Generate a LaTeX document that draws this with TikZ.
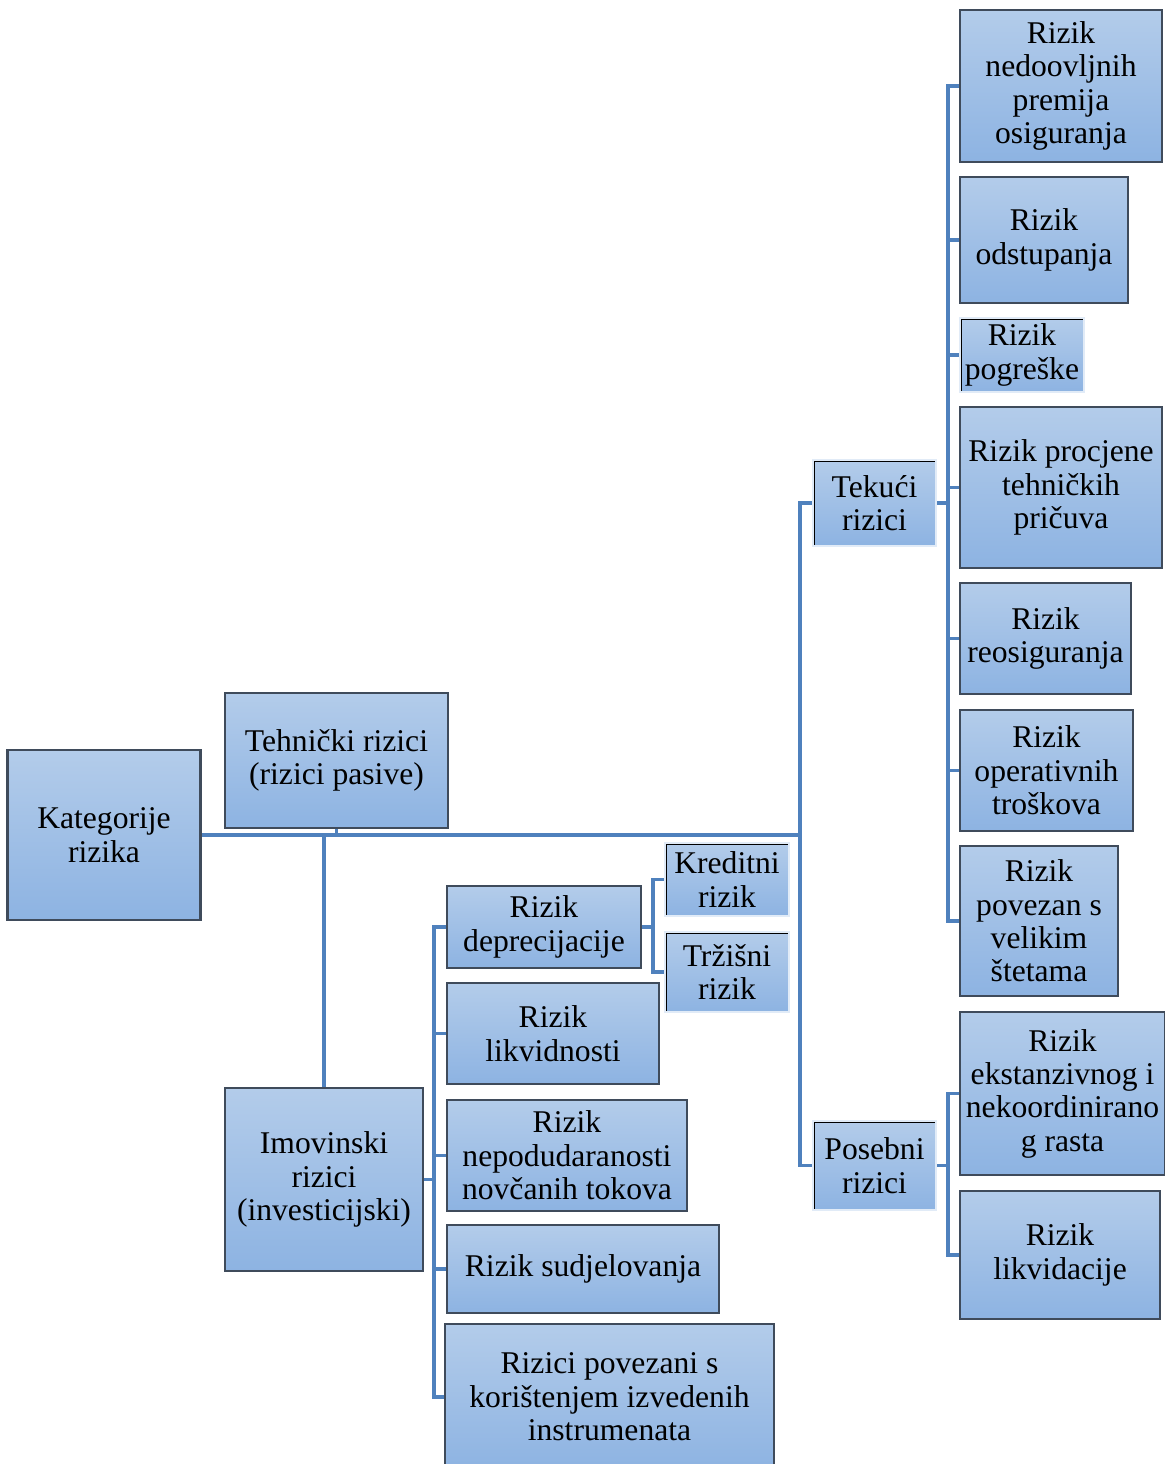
\documentclass[tikz,border=0pt]{standalone}
\usepackage{fontspec}
\setmainfont{Liberation Serif}
\usetikzlibrary{positioning}
\definecolor{boxtop}{HTML}{B3CCEA}
\definecolor{boxbottom}{HTML}{8DB3E2}
\definecolor{boxline}{HTML}{3F4B5B}
\definecolor{linkblue}{HTML}{4F81BD}
\tikzset{
    riskbox/.style={draw=boxline, line width=1.2pt, top color=boxtop, bottom color=boxbottom,
        align=center, inner sep=1pt, font=\fontsize{18}{19}\selectfont},
    flatbox/.style={riskbox, draw=boxtop!40!white,
        path picture={\draw[black, line width=2.4pt]
            (path picture bounding box.south west) |- (path picture bounding box.north east);}},
    link/.style={draw=linkblue, line width=1.8pt}
}

\begin{document}
\begin{tikzpicture}[x=0.02cm, y=-0.02cm]
    \useasboundingbox (0, 0) rectangle (1165, 1464);
    % left part
    \node[riskbox, minimum width=3.86cm, minimum height=3.4cm] (kat) at (104, 835) {Kategorije\\rizika};
    \node[riskbox, minimum width=4.46cm, minimum height=2.7cm] (teh) at (336.5, 760.5) {Tehnički rizici\\(rizici pasive)};
    \node[riskbox, minimum width=3.96cm, minimum height=3.66cm] (imo) at (324, 1179.5) {Imovinski\\rizici\\(investicijski)};
    % tehnicki rizici
    \node[flatbox, minimum width=2.46cm, minimum height=1.72cm] (tek) at (874.5, 503) {Tekući\\rizici};
    \node[flatbox, minimum width=2.46cm, minimum height=1.78cm] (pos) at (874.5, 1165.5) {Posebni\\rizici};
    \node[riskbox, minimum width=4.04cm, minimum height=3.04cm] (nedo) at (1061, 86) {Rizik\\nedoovljnih\\premija\\osiguranja};
    \node[riskbox, minimum width=3.36cm, minimum height=2.52cm] (odst) at (1044, 240) {Rizik\\odstupanja};
    \node[flatbox, minimum width=2.48cm, minimum height=1.48cm] (pogr) at (1022, 355) {Rizik\\pogreške};
    \node[riskbox, minimum width=4.04cm, minimum height=3.22cm] (proc) at (1061, 487.5) {Rizik procjene\\tehničkih\\pričuva};
    \node[riskbox, minimum width=3.42cm, minimum height=2.22cm] (reos) at (1045.5, 638.5) {Rizik\\reosiguranja};
    \node[riskbox, minimum width=3.46cm, minimum height=2.42cm] (oper) at (1046.5, 770.5) {Rizik\\operativnih\\troškova};
    \node[riskbox, minimum width=3.16cm, minimum height=3.0cm] (stet) at (1039, 921) {Rizik\\povezan s\\velikim\\štetama};
    \node[riskbox, minimum width=4.1cm, minimum height=3.26cm] (ekst) at (1062.5, 1093.5) {Rizik\\ekstanzivnog i\\nekoordinirano\\g rasta};
    \node[riskbox, minimum width=4.0cm, minimum height=2.56cm] (likvi) at (1060, 1255) {Rizik\\likvidacije};
    % imovinski rizici
    \node[riskbox, minimum width=3.88cm, minimum height=1.64cm] (depr) at (544, 927) {Rizik\\deprecijacije};
    \node[riskbox, minimum width=4.24cm, minimum height=2.02cm] (likvn) at (553, 1033.5) {Rizik\\likvidnosti};
    \node[riskbox, minimum width=4.8cm, minimum height=2.22cm] (nepo) at (567, 1155.5) {Rizik\\nepodudaranosti\\novčanih tokova};
    \node[riskbox, minimum width=5.44cm, minimum height=1.76cm] (sudj) at (583, 1269) {Rizik sudjelovanja};
    \node[riskbox, minimum width=6.58cm, minimum height=2.92cm] (izve) at (609.5, 1397) {Rizici povezani s\\korištenjem izvedenih\\instrumenata};
    \node[flatbox, minimum width=2.48cm, minimum height=1.46cm] (kred) at (727, 879.5) {Kreditni\\rizik};
    \node[flatbox, minimum width=2.48cm, minimum height=1.6cm] (trzi) at (727, 972) {Tržišni\\rizik};
    % junctions
    \coordinate (mj) at (800, 835);
    \coordinate (tj) at (948, 503);
    \coordinate (pj) at (948, 1165.5);
    \coordinate (ij) at (434, 1179.5);
    \coordinate (dj) at (653, 927);
    % connectors
    \draw[link] (kat.east) -- (mj)
        (teh.south) -- (teh.south |- mj)
        (imo.north) -- (imo.north |- mj)
        (tek.west) -| (mj)
        (pos.west) -| (mj);
    \draw[link] (tek.east) -- (tj)
        (nedo.west) -| (tj)
        (odst.west) -| (tj)
        (pogr.west) -| (tj)
        (proc.west) -| (tj)
        (reos.west) -| (tj)
        (oper.west) -| (tj)
        (stet.west) -| (tj);
    \draw[link] (pos.east) -- (pj)
        (ekst.west) -| (pj)
        (likvi.west) -| (pj);
    \draw[link] (imo.east) -- (ij)
        (depr.west) -| (ij)
        (likvn.west) -| (ij)
        (nepo.west) -| (ij)
        (sudj.west) -| (ij)
        (izve.west) -| (ij);
    \draw[link] (depr.east) -- (dj)
        (kred.west) -| (dj)
        (trzi.west) -| (dj);
\end{tikzpicture}
\end{document}
